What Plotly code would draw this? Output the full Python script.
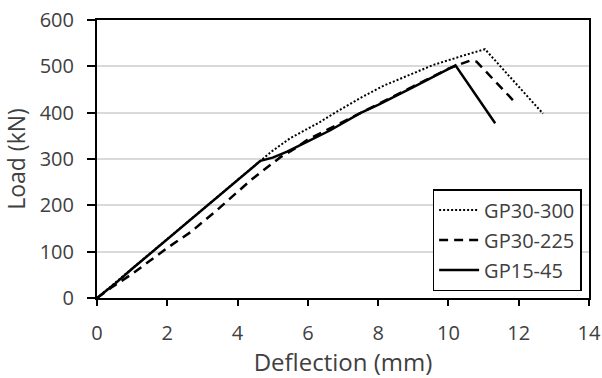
import plotly.graph_objects as go

# GP30-300 (dotted)
x_gp30_300 = [0, 1, 2, 3, 4, 4.7, 5.0, 5.5, 6.0, 6.35, 6.73, 7.5, 8.15, 9.0, 9.57, 10.5, 11.04, 12.69]
y_gp30_300 = [0, 63, 127, 191, 255, 298, 318, 345, 366, 380, 398, 432, 458, 484, 503, 525, 537, 398]

# GP30-225 (dashed)
x_gp30_225 = [0, 0.4, 1, 2, 2.66, 3.42, 4.37, 5.22, 5.6, 6, 7, 8, 9, 10, 10.6, 10.8, 11.95]
y_gp30_225 = [0, 22, 52, 108, 142, 190, 254, 304, 321, 342, 380, 419, 457, 495, 512, 510, 418]

# GP15-45 (solid)
x_gp15_45 = [0, 0.3, 0.5, 1, 2, 3, 4, 4.65, 5.0, 5.41, 6, 6.64, 7.49, 8, 9, 10.14, 10.2, 11.33]
y_gp15_45 = [0, 18, 30, 63, 127, 191, 255, 296, 303, 316, 338, 362, 399, 417, 455, 499, 502, 377]

x_ticks = [0, 2, 4, 6, 8, 10, 12, 14]
y_ticks = [0, 100, 200, 300, 400, 500, 600]

FONT = "Open Sans"
TXT = "#404040"

fig = go.Figure()
fig.add_trace(go.Scatter(x=x_gp30_300, y=y_gp30_300, mode="lines", name="GP30-300", legendgroup="a",
                         line=dict(color="black", width=2, dash="2px,2px")))
fig.add_trace(go.Scatter(x=x_gp30_225, y=y_gp30_225, mode="lines", name="GP30-225", legendgroup="b",
                         line=dict(color="black", width=2.5, dash="9px,6px")))
fig.add_trace(go.Scatter(x=x_gp15_45, y=y_gp15_45, mode="lines", name="GP15-45", legendgroup="c",
                         line=dict(color="black", width=2.5)))

fig.update_layout(
    width=602, height=378,
    margin=dict(l=96.5, r=13, t=20, b=80.3),
    paper_bgcolor="white", plot_bgcolor="white",
    font=dict(family=FONT, size=20, color=TXT),
    showlegend=True,
    legend=dict(x=0.985, y=0.025, xanchor="right", yanchor="bottom",
                bordercolor="black", borderwidth=1.5, bgcolor="white",
                tracegroupgap=1, itemwidth=40,
                font=dict(family=FONT, size=20, color=TXT)),
    xaxis=dict(range=[0, 14], tickvals=x_ticks, showgrid=False, zeroline=False, automargin=False,
               showline=True, linecolor="black", linewidth=2, mirror=True,
               ticks="outside", ticklen=6, tickwidth=2, tickcolor="black",
               tickfont=dict(size=20, color=TXT), ticklabelstandoff=10, ticklabeloverflow="allow",
               title=dict(text="Deflection (mm)", font=dict(size=24, color=TXT), standoff=19)),
    yaxis=dict(range=[0, 600], tickvals=y_ticks, showgrid=True, gridcolor="#d9d9d9", gridwidth=1.5,
               zeroline=False, showline=True, linecolor="black", linewidth=2, mirror=True, automargin=False,
               ticks="outside", ticklen=8, tickwidth=2, tickcolor="black",
               tickfont=dict(size=20, color=TXT), ticklabelstandoff=9, ticklabeloverflow="allow",
               title=dict(text="Load (kN)", font=dict(size=23, color=TXT), standoff=17)),
)

fig.write_html(
    "out.html",
    config={"displayModeBar": False},
    post_script="document.body.style.margin='0';document.body.style.overflow='hidden';"
                "document.documentElement.style.overflow='hidden';",
)
